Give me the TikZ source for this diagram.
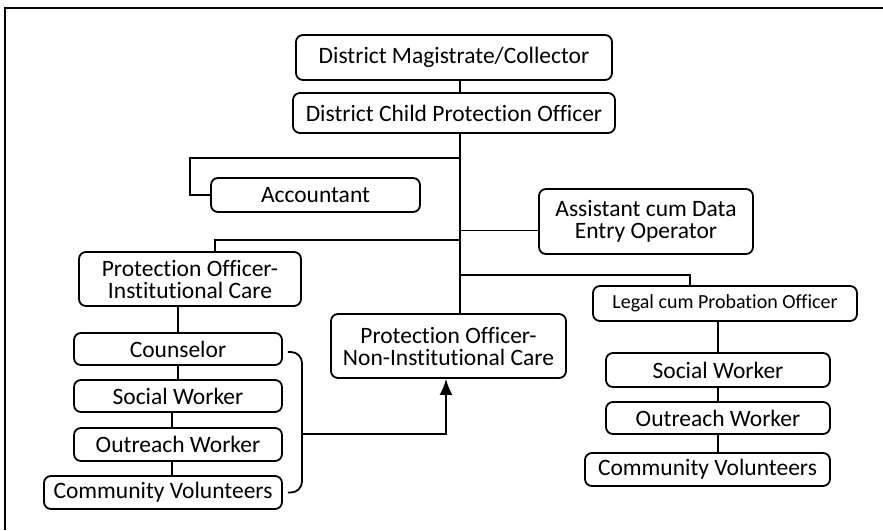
\documentclass[tikz,border=0pt]{standalone}
\usepackage{fontspec}
\setmainfont{Carlito}[Ligatures=NoCommon]
\usetikzlibrary{arrows.meta}

\begin{document}
\begin{tikzpicture}[x=1pt,y=-1pt,
	post/.style={draw,rounded corners=7pt,line width=1.8pt,align=center,inner sep=0pt,font=\fontsize{23.5}{22}\selectfont},
	link/.style={line width=1.8pt}]
			\useasboundingbox (0,0) rectangle (883,530);
			\draw[line width=2.5pt] (5,530) -- (5,8) -- (883,8);
			\node[post,minimum width=316pt,minimum height=45pt] (dm) at (454,57.5){District Magistrate/Collector};
			\node[post,minimum width=322pt,minimum height=40pt] (dcpo) at (454,113){District Child Protection Officer};
			\node[post,minimum width=209pt,minimum height=34pt] (acct) at (315.5,195){Accountant};
			\node[post,minimum width=214pt,minimum height=65pt] (asst) at (646,221.5){Assistant cum Data\\Entry Operator};
			\node[post,minimum width=222pt,minimum height=54pt] (poic) at (190,279){Protection Officer-\\Institutional Care};
			\node[post,minimum width=235pt,minimum height=64pt] (ponic) at (448.5,346){Protection Officer-\\Non-Institutional Care};
			\node[post,minimum width=264pt,minimum height=35pt,font=\fontsize{20}{22}\selectfont] (legal) at (725,303.5){Legal cum Probation Officer};
			\node[post,minimum width=208pt,minimum height=32pt] (couns) at (178,349){Counselor};
			\node[post,minimum width=208pt,minimum height=32pt] (sw1) at (178,396){Social Worker};
			\node[post,minimum width=208pt,minimum height=33pt] (ow1) at (178,444.5){Outreach Worker};
			\node[post,minimum width=238pt,minimum height=33pt] (cv1) at (163,492.5){Community Volunteers};
			\node[post,minimum width=224pt,minimum height=34pt] (sw2) at (718,370){Social Worker};
			\node[post,minimum width=224pt,minimum height=32pt] (ow2) at (718,418){Outreach Worker};
			\node[post,minimum width=245pt,minimum height=33pt] (cv2) at (707.5,469.5){Community Volunteers};
			% trunk and its branches
			\coordinate (trk) at (460,133);
			\coordinate (ja) at (460,158);
			\coordinate (jp) at (460,240);
			\coordinate (jl) at (460,275);
			\draw[link] (dm.south -| trk) -- (dcpo.north -| trk);
			\draw[link] (dcpo.south -| trk) -- (ponic.north -| trk);
			\draw[link] (ja) -| ([xshift=-20pt]acct.west) -- (acct.west);
			\draw[link] ([yshift=-9pt]asst.west -| trk) -- ([yshift=-9pt]asst.west);
			\draw[link] (jp) -| ([xshift=25pt]poic.north);
			\draw[link] (jl) -| ([xshift=-35pt]legal.north);
			% institutional care column
			\draw[link] (couns.north |- poic.south) -- (couns.north);
			\draw[link] (couns) -- (sw1);
			\draw[link] ([xshift=-6pt]sw1.south) -- ([xshift=-6pt]ow1.north);
			\draw[link] ([xshift=-6pt]ow1.south) -- ([xshift=-6pt]ow1.south |- cv1.north);
			% legal column
			\draw[link] (legal.south -| sw2.north) -- (sw2.north);
			\draw[link] (sw2) -- (ow2);
			\draw[link] (ow2.south) -- (ow2.south |- cv2.north);
			% bracket to non-institutional care
			\coordinate (bt) at ([shift={(5,3)}]couns.east);
			\coordinate (bb) at ([xshift=5pt]cv1.east);
			\coordinate (bm) at (302,434);
			\draw[link,rounded corners=11pt] (bt) -| (bm) |- (bb);
			\draw[link,-{Latex[length=16pt,width=13pt]}] (bm) -| ([xshift=-2.5pt]ponic.south);
		\end{tikzpicture}
\end{document}
